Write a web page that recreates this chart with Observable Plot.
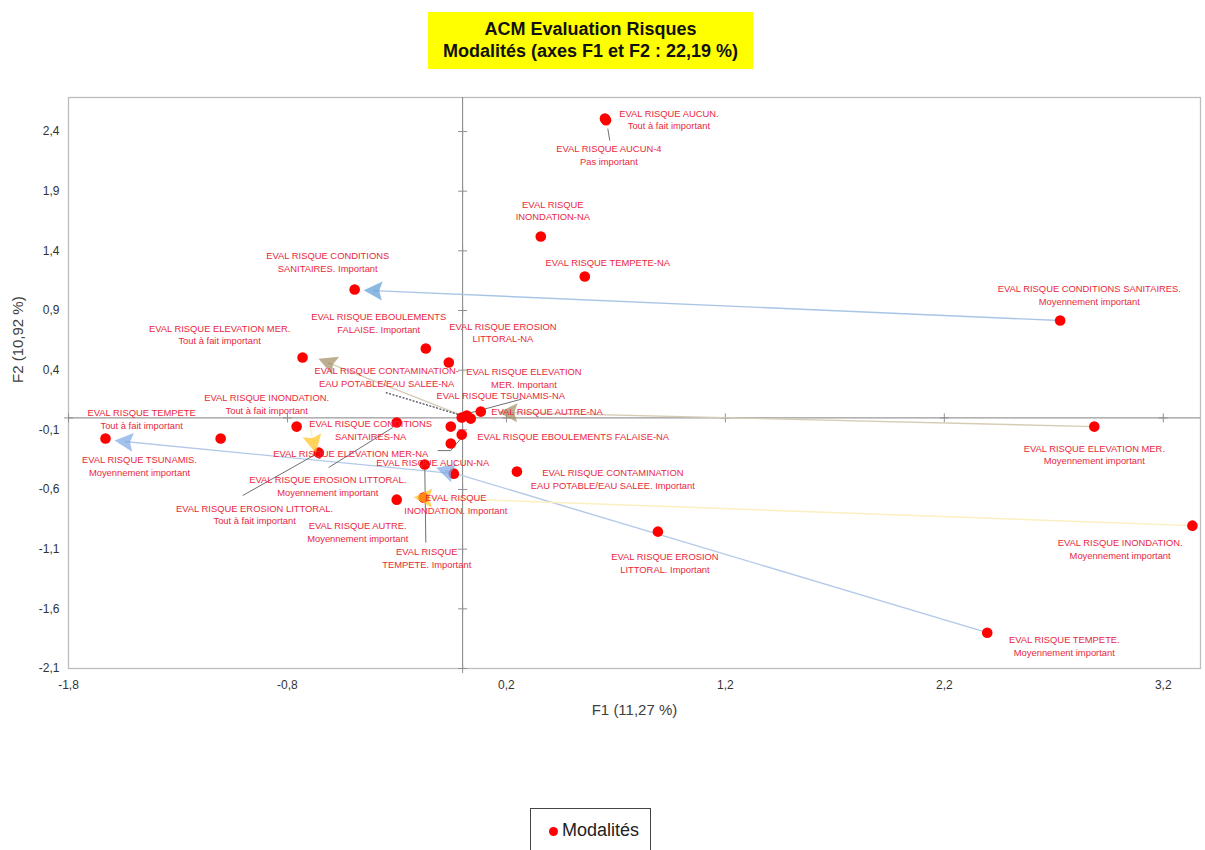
<!DOCTYPE html>
<html>
<head>
<meta charset="utf-8">
<script src="https://cdn.jsdelivr.net/npm/d3@7"></script>
<script src="https://cdn.jsdelivr.net/npm/@observablehq/plot@0.6"></script>
<style>
  body { margin: 0; background: #fff; font-family: "Liberation Sans", Arial, sans-serif; }
  #wrap { position: relative; width: 1205px; height: 850px; overflow: hidden; background: #fff; }
  #chart { position: absolute; left: 0; top: 0; }
  #title { position: absolute; left: 428px; top: 12px; width: 325px; height: 57px; background: #ffff00;
           font-weight: bold; font-size: 18px; line-height: 22px; text-align: center; color: #111;
           padding-top: 6px; box-sizing: border-box; }
  #legend { position: absolute; left: 530px; top: 808px; width: 121px; height: 60px; border: 1px solid #444;
            box-sizing: border-box; font-size: 18px; color: #222; }
  #legend .dot { position: absolute; left: 18px; top: 18px; width: 9px; height: 9px; border-radius: 50%; background: #ff0000; }
  #legend .txt { position: absolute; left: 31px; top: 11px; }
</style>
</head>
<body>
<div id="wrap">
  <div id="chart"></div>
  <div id="title">ACM Evaluation Risques<br>Modalités (axes F1 et F2 : 22,19 %)</div>
  <div id="legend"><span class="dot"></span><span class="txt">Modalités</span></div>
</div>
<script>
// ---------- data ----------
const xTicks = [-1.8, -0.8, 0.2, 1.2, 2.2, 3.2];
const yTicks = [2.4, 1.9, 1.4, 0.9, 0.4, -0.1, -0.6, -1.1, -1.6, -2.1];
const xLabel = "F1 (11,27 %)";
const yLabel = "F2 (10,92 %)";

const modalites = [
  "EVAL RISQUE AUCUN. Tout à fait important",
  "EVAL RISQUE AUCUN-4 Pas important",
  "EVAL RISQUE INONDATION-NA",
  "EVAL RISQUE TEMPETE-NA",
  "EVAL RISQUE CONDITIONS SANITAIRES. Important",
  "EVAL RISQUE CONDITIONS SANITAIRES. Moyennement important",
  "EVAL RISQUE ELEVATION MER. Tout à fait important",
  "EVAL RISQUE EBOULEMENTS FALAISE. Important",
  "EVAL RISQUE EROSION LITTORAL-NA",
  "EVAL RISQUE CONTAMINATION-EAU POTABLE/EAU SALEE-NA",
  "EVAL RISQUE AUTRE-NA",
  "EVAL RISQUE TSUNAMIS-NA",
  "EVAL RISQUE ELEVATION MER. Important",
  "EVAL RISQUE INONDATION. Tout à fait important",
  "EVAL RISQUE TEMPETE Tout à fait important",
  "EVAL RISQUE TSUNAMIS. Moyennement important",
  "EVAL RISQUE CONDITIONS SANITAIRES-NA",
  "EVAL RISQUE EROSION LITTORAL. Moyennement important",
  "EVAL RISQUE EBOULEMENTS FALAISE-NA",
  "EVAL RISQUE ELEVATION MER-NA",
  "EVAL RISQUE EROSION LITTORAL. Tout à fait important",
  "EVAL RISQUE TEMPETE. Important",
  "EVAL RISQUE AUCUN-NA",
  "EVAL RISQUE CONTAMINATION EAU POTABLE/EAU SALEE. Important",
  "EVAL RISQUE AUTRE. Moyennement important",
  "EVAL RISQUE INONDATION. Important",
  "EVAL RISQUE EROSION LITTORAL. Important",
  "EVAL RISQUE TEMPETE. Moyennement important",
  "EVAL RISQUE INONDATION. Moyennement important",
  "EVAL RISQUE ELEVATION MER. Moyennement important"
];
const f1 = [0.650, 0.655, 0.357, 0.558, -0.493, 2.729, -0.731, -0.168, -0.063, -0.004,
            0.019, 0.037, 0.083, -0.758, -1.631, -1.105, -0.301, -0.054, -0.004, -0.054,
            -0.657, -0.173, -0.040, 0.248, -0.301, -0.178, 0.892, 2.396, 3.333, 2.885];
const f2 = [2.509, 2.495, 1.520, 1.185, 1.076, 0.816, 0.506, 0.581, 0.464, 0.003,
            0.020, -0.006, 0.053, -0.073, -0.173, -0.173, -0.039, -0.073, -0.140, -0.215,
            -0.291, -0.391, -0.467, -0.450, -0.685, -0.668, -0.953, -1.800, -0.903, -0.073];

const labelTexts = [
  "EVAL RISQUE AUCUN.\nTout à fait important",
  "EVAL RISQUE AUCUN-4\nPas important",
  "EVAL RISQUE\nINONDATION-NA",
  "EVAL RISQUE TEMPETE-NA",
  "EVAL RISQUE CONDITIONS\nSANITAIRES. Important",
  "EVAL RISQUE EBOULEMENTS\nFALAISE. Important",
  "EVAL RISQUE EROSION\nLITTORAL-NA",
  "EVAL RISQUE ELEVATION MER.\nTout à fait important",
  "EVAL RISQUE CONDITIONS SANITAIRES.\nMoyennement important",
  "EVAL RISQUE CONTAMINATION-\nEAU POTABLE/EAU SALEE-NA",
  "EVAL RISQUE ELEVATION\nMER. Important",
  "EVAL RISQUE TSUNAMIS-NA",
  "EVAL RISQUE INONDATION.\nTout à fait important",
  "EVAL RISQUE AUTRE-NA",
  "EVAL RISQUE TEMPETE\nTout à fait important",
  "EVAL RISQUE CONDITIONS\nSANITAIRES-NA",
  "EVAL RISQUE EBOULEMENTS FALAISE-NA",
  "EVAL RISQUE TSUNAMIS.\nMoyennement important",
  "EVAL RISQUE ELEVATION MER-NA",
  "EVAL RISQUE AUCUN-NA",
  "EVAL RISQUE EROSION LITTORAL.\nMoyennement important",
  "EVAL RISQUE CONTAMINATION\nEAU POTABLE/EAU SALEE. Important",
  "EVAL RISQUE\nINONDATION. Important",
  "EVAL RISQUE EROSION LITTORAL.\nTout à fait important",
  "EVAL RISQUE AUTRE.\nMoyennement important",
  "EVAL RISQUE\nTEMPETE. Important",
  "EVAL RISQUE EROSION\nLITTORAL. Important",
  "EVAL RISQUE ELEVATION MER.\nMoyennement important",
  "EVAL RISQUE INONDATION.\nMoyennement important",
  "EVAL RISQUE TEMPETE.\nMoyennement important"
];
const labelF1 = [0.942, 0.668, 0.412, 0.663, -0.616, -0.383, 0.184, -1.110, 2.862, -0.347,
                 0.280, 0.174, -0.895, 0.385, -1.466, -0.420, 0.505, -1.476, -0.511, -0.136,
                 -0.616, 0.686, -0.031, -0.950, -0.479, -0.164, 0.924, 2.885, 3.003, 2.748];
const labelF2 = [2.505, 2.207, 1.742, 1.310, 1.310, 0.799, 0.719, 0.703, 1.034, 0.346,
                 0.338, 0.196, 0.120, 0.061, -0.002, -0.098, -0.148, -0.400, -0.291, -0.366,
                 -0.567, -0.509, -0.718, -0.806, -0.949, -1.167, -1.213, -0.303, -1.095, -1.904];

// leader lines (from label to modality)
const leaderFromF1 = [0.663, -0.351, 0.028, -0.114, -0.054, -1.005, -0.612, -0.168];
const leaderFromF2 = [2.425, 0.212, 0.039, -0.274, -0.274, -0.651, -0.416, -1.045];
const leaderToF1   = [0.672, -0.018, 0.269, -0.054, -0.008, -0.657, -0.319, -0.173];
const leaderToF2   = [2.325, 0.028, 0.157, -0.274, -0.173, -0.291, -0.081, -0.391];
const leaderDotted = [false, true, false, false, false, false, false, false];

// trajectories between modalities of a same variable
const arrowVariable = ["CONDITIONS SANITAIRES", "TEMPETE", "TEMPETE", "ELEVATION MER", "ELEVATION MER", "INONDATION", "INONDATION"];
const arrowFromF1 = [2.729, 2.396, -0.040, 0.010, 2.885, 3.333, -0.700];
const arrowFromF2 = [0.816, -1.800, -0.467, 0.010, -0.073, -0.903, -0.050];
const arrowToF1   = [-0.406, -0.077, -1.544, -0.616, 0.211, -0.178, -0.680];
const arrowToF2   = [1.067, -0.442, -0.198, 0.464, 0.045, -0.668, -0.215];

// ---------- styles ----------
const lineColor = {"CONDITIONS SANITAIRES": "#a9c5e6", "TEMPETE": "#b3c9ea", "ELEVATION MER": "#d6ccb6", "INONDATION": "#fcefc0"};
const headColor = {"CONDITIONS SANITAIRES": "#5b9bd5", "TEMPETE": "#7aa6e2", "ELEVATION MER": "#a08c60", "INONDATION": "#ffc21a"};

const W = 1205, H = 740, ML = 68, MR = 5, MT = 97, MB = 72;
const xDomain = [-1.8, 3.37], yDomain = [-2.1, 2.685];
const kx = (W - ML - MR) / (xDomain[1] - xDomain[0]);
const ky = (H - MT - MB) / (yDomain[1] - yDomain[0]);
const fmt = d => d.toFixed(1).replace(".", ",");

const points = modalites.map((name, i) => ({name, f1: f1[i], f2: f2[i]}));
const labels = labelTexts.map((t, i) => ({t, x: labelF1[i], y: labelF2[i]}));
const leaders = leaderFromF1.map((v, i) => ({x1: v, y1: leaderFromF2[i], x2: leaderToF1[i], y2: leaderToF2[i], dotted: leaderDotted[i]}));
const arrows = arrowVariable.map((v, i) => {
  const dxp = (arrowToF1[i] - arrowFromF1[i]) * kx;
  const dyp = -(arrowToF2[i] - arrowFromF2[i]) * ky;
  return {v, x1: arrowFromF1[i], y1: arrowFromF2[i], x2: arrowToF1[i], y2: arrowToF2[i],
          angle: Math.atan2(dxp, -dyp) * 180 / Math.PI};
});

const arrowHead = {
  draw(ctx, size) {
    const r = Math.sqrt(size / Math.PI);
    ctx.moveTo(0, -r);
    ctx.lineTo(r * 0.95, r * 0.85);
    ctx.lineTo(0, r * 0.55);
    ctx.lineTo(-r * 0.95, r * 0.85);
    ctx.closePath();
  }
};

const chart = Plot.plot({
  width: W, height: H,
  marginLeft: ML, marginRight: MR, marginTop: MT, marginBottom: MB,
  style: {fontFamily: "'Liberation Sans', Arial, sans-serif", color: "#333", background: "transparent"},
  x: {domain: xDomain, label: null},
  y: {domain: yDomain, label: null},
  color: {type: "identity"},
  marks: [
    Plot.frame({stroke: "#bdbdbd", strokeWidth: 1.3}),
    Plot.axisX(xTicks, {tickSize: 0, tickPadding: 12, tickFormat: fmt, fontSize: 12, label: null}),
    Plot.axisY(yTicks, {tickSize: 0, tickPadding: 9, tickFormat: fmt, fontSize: 12, label: null}),
    Plot.text([xLabel], {text: d => d, frameAnchor: "bottom", dy: 46, fontSize: 15, fill: "#404040"}),
    Plot.text([yLabel], {text: d => d, frameAnchor: "left", dx: -50, rotate: -90, fontSize: 15, fill: "#404040"}),
    Plot.ruleX([0], {stroke: "#808080", strokeWidth: 1}),
    Plot.ruleY([0], {stroke: "#808080", strokeWidth: 1}),
    Plot.dot(yTicks, {x: () => 0, y: d => d, symbol: "plus", r: 3, stroke: "#909090", strokeWidth: 1}),
    Plot.dot(xTicks, {x: d => d, y: () => 0, symbol: "plus", r: 3, stroke: "#909090", strokeWidth: 1}),
    Plot.link(arrows, {x1: "x1", y1: "y1", x2: "x2", y2: "y2", stroke: d => lineColor[d.v], strokeWidth: 1.4}),
    Plot.link(leaders.filter(d => !d.dotted), {x1: "x1", y1: "y1", x2: "x2", y2: "y2", stroke: "#707070", strokeWidth: 1}),
    Plot.link(leaders.filter(d => d.dotted), {x1: "x1", y1: "y1", x2: "x2", y2: "y2", stroke: "#505060", strokeWidth: 1.3, strokeDasharray: "2,1.5"}),
    Plot.dot(points, {x: "f1", y: "f2", r: 5.3, fill: "#ff0000", stroke: "none"}),
    Plot.dot(arrows, {x: "x2", y: "y2", symbol: arrowHead, r: 10, fill: d => headColor[d.v], fillOpacity: 0.7, stroke: "none", rotate: "angle"}),
    Plot.text(labels, {x: "x", y: "y", text: "t", fill: "#e8283c", fontSize: 9.4, lineHeight: 1.35})
  ]
});
document.getElementById("chart").appendChild(chart);
</script>
</body>
</html>
